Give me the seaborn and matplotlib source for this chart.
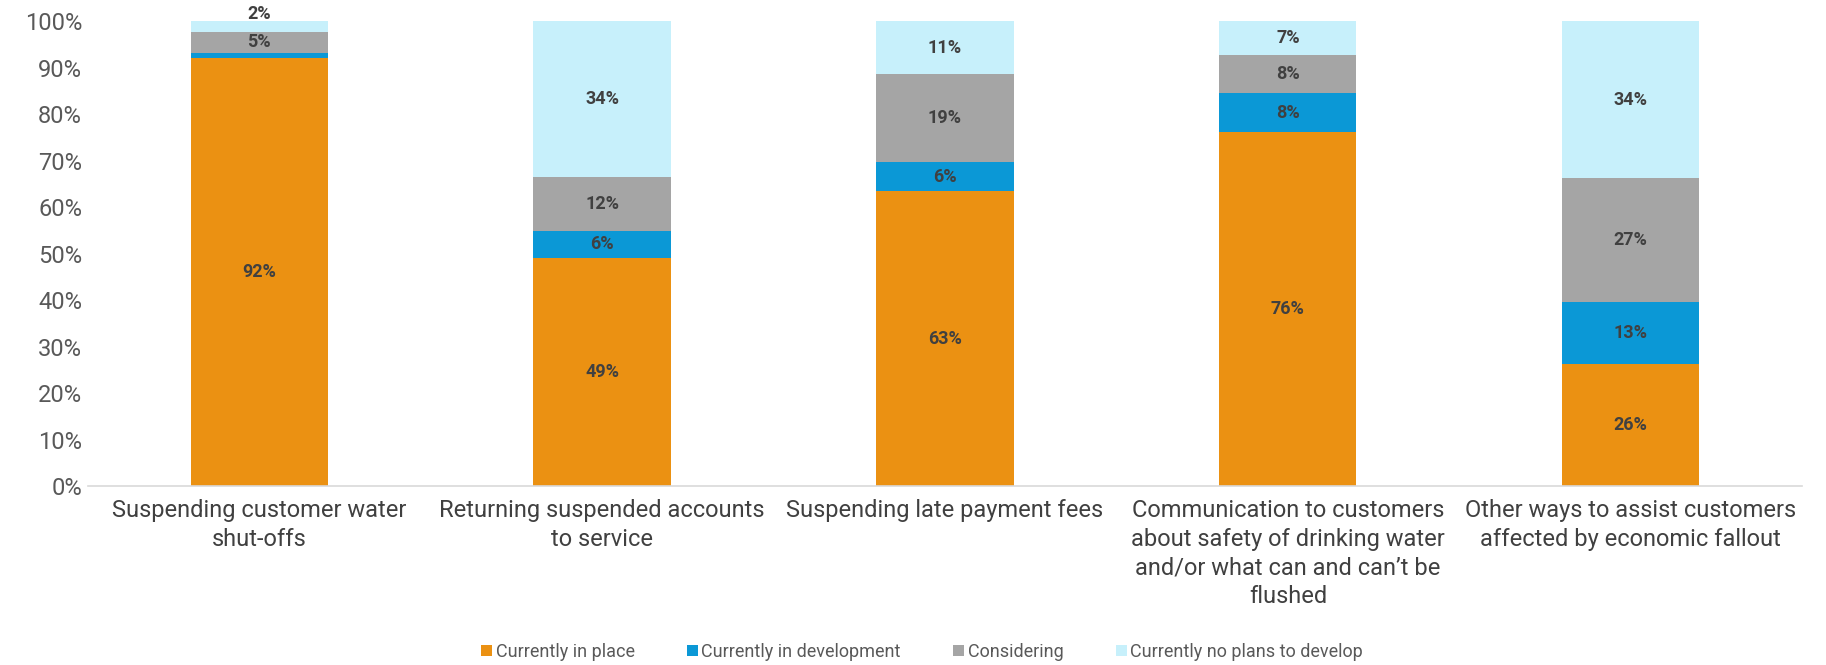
import numpy as np
import pandas as pd
import matplotlib.pyplot as plt
import seaborn as sns
from matplotlib.patches import Patch

categories = [
    "Suspending customer water\nshut-offs",
    "Returning suspended accounts\nto service",
    "Suspending late payment fees",
    "Communication to customers\nabout safety of drinking water\nand/or what can and can\u2019t be\nflushed",
    "Other ways to assist customers\naffected by economic fallout",
]
series = ["Currently in place", "Currently in development", "Considering", "Currently no plans to develop"]
in_place = [92.0, 49.1, 63.4, 76.2, 26.3]
in_development = [1.2, 5.8, 6.3, 8.3, 13.3]
considering = [4.6, 11.6, 19.0, 8.2, 26.6]
no_plans = [2.2, 33.5, 11.3, 7.3, 33.8]
colors = ["#EB9112", "#0B98D6", "#A5A5A5", "#C7F0FB"]

sns.set_theme(style="white")
plt.rcParams['font.family'] = ['Roboto', 'DejaVu Sans']

values = np.array([in_place, in_development, considering, no_plans])
tops = np.cumsum(values, axis=0)

fig = plt.figure(figsize=(18.26, 6.65), dpi=100)
ax = fig.add_axes([0.048, 0.269, 0.939, 0.699])

# draw cumulative totals from the top series down so each layer covers the one above
for i in range(len(series) - 1, -1, -1):
    df = pd.DataFrame({'cat': categories, 'top': tops[i]})
    sns.barplot(data=df, x='cat', y='top', color=colors[i], saturation=1,
                width=0.4, ax=ax, linewidth=0)

# segment labels
for i in range(len(series)):
    for j in range(len(categories)):
        v = values[i][j]
        if v < 2:
            continue
        if v < 3:
            # thin segment: label sits just above the bar
            ax.text(j, tops[i][j] - 0.4, f"{round(v):.0f}%", ha='center', va='bottom',
                    fontsize=13, fontweight='bold', color='#404040')
        else:
            ax.text(j, tops[i][j] - v / 2, f"{round(v):.0f}%", ha='center', va='center',
                    fontsize=13, fontweight='bold', color='#404040')

ax.set_ylim(0, 100)
ax.set_xlim(-0.5, len(categories) - 0.5)
ax.set_yticks(range(0, 101, 10))
ax.set_yticklabels([f"{t}%" for t in range(0, 101, 10)], fontsize=17, color='#595959')
ax.set_xticks(range(len(categories)))
ax.set_xticklabels(categories, fontsize=17, color='#404040', va='top', linespacing=1.33)
ax.tick_params(axis='x', length=0, pad=9)
ax.tick_params(axis='y', length=0, pad=4)
ax.set_xlabel('')
ax.set_ylabel('')
for s in ['top', 'right', 'left']:
    ax.spines[s].set_visible(False)
ax.spines['bottom'].set_color('#D9D9D9')
ax.spines['bottom'].set_linewidth(1.2)

handles = [Patch(facecolor=c, edgecolor='none') for c in colors]
fig.legend(handles, series, loc='center', bbox_to_anchor=(0.505, 0.02), ncol=4,
           frameon=False, fontsize=13, handlelength=0.6, handleheight=0.6,
           handletextpad=0.2, columnspacing=2.9, labelcolor='#595959')

fig.savefig('out.png', dpi=100)
